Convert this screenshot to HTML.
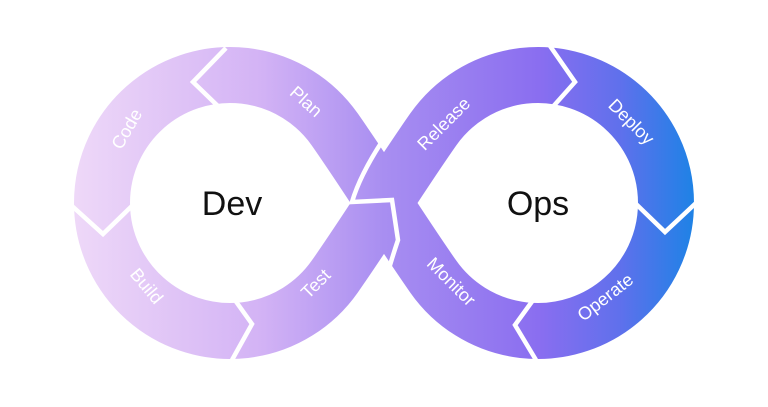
<!DOCTYPE html>
<html><head><meta charset="utf-8"><style>
html,body{margin:0;padding:0;background:#fff;}
svg{display:block;}
text{font-family:"Liberation Sans",sans-serif;}
</style></head><body>
<svg width="768" height="407" viewBox="0 0 768 407" xmlns="http://www.w3.org/2000/svg">
<defs>
<linearGradient id="g" gradientUnits="userSpaceOnUse" x1="75" y1="0" x2="693" y2="0">
<stop offset="0" stop-color="#eed8f8"/>
<stop offset="0.3" stop-color="#d3b3f5"/>
<stop offset="0.5" stop-color="#a88ef1"/>
<stop offset="0.75" stop-color="#8a6ef0"/>
<stop offset="0.88" stop-color="#6070ec"/>
<stop offset="1" stop-color="#1f82e6"/>
</linearGradient>
</defs>
<path d="M334.8,129.5 C369.2,178.6 398.8,227.4 433.2,276.5 A128,128 0 1 0 433.2,129.5 C398.8,178.6 369.2,227.4 334.8,276.5 A128,128 0 1 1 334.8,129.5 Z" fill="none" stroke="url(#g)" stroke-width="56"/>
<g fill="none" stroke="#fff" stroke-width="4.5" stroke-linejoin="miter">
<polyline points="222,110 193,82 226,48"/>
<polyline points="134,204 103,234 72,206"/>
<polyline points="232,296 252,324 232,360"/>
<polyline points="550,110 575,82 550,46"/>
<polyline points="636,204 665,232 696,203"/>
<polyline points="536,296 515,325 536,360"/>
<path d="M383,140 Q360,175 352,202 L392,200 L398,240 Q392,258 388,272"/>
</g>
<g fill="#fff" font-size="18" text-anchor="middle">
<text transform="translate(132,132) rotate(-60)">Code</text>
<text transform="translate(302,106) rotate(42)">Plan</text>
<text transform="translate(142,290) rotate(50)">Build</text>
<text transform="translate(320,288) rotate(-45)">Test</text>
<text transform="translate(448,128) rotate(-45)">Release</text>
<text transform="translate(627,126) rotate(45)">Deploy</text>
<text transform="translate(447,286) rotate(45)">Monitor</text>
<text transform="translate(609,302) rotate(-38)">Operate</text>
</g>
<g fill="#111" font-size="34" text-anchor="middle">
<text x="232" y="215">Dev</text>
<text x="538" y="215">Ops</text>
</g>
</svg>
</body></html>
